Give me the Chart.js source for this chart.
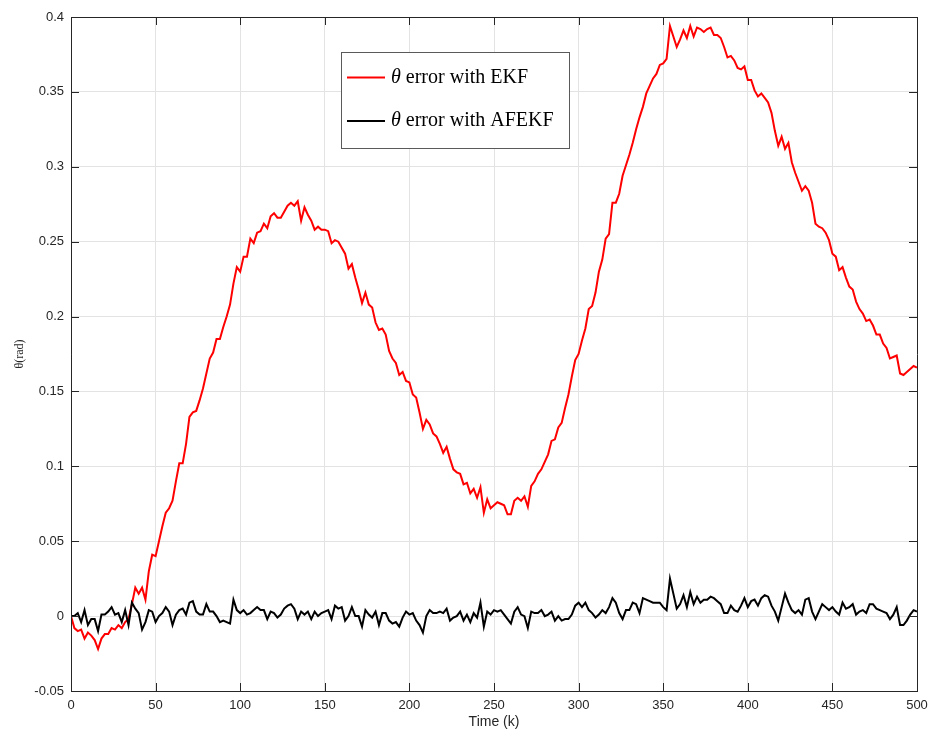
<!DOCTYPE html>
<html>
<head>
<meta charset="utf-8">
<script src="https://cdn.jsdelivr.net/npm/chart.js@4.4.1/dist/chart.umd.min.js"></script>
<style>
  html, body { margin: 0; padding: 0; background: #fff; }
  #wrap { width: 932px; height: 736px; }
</style>
</head>
<body>
<div id="wrap"><canvas id="errChart" width="932" height="736"></canvas></div>
<script>
// sample times (k), every 2 steps from 0 to 500
const timeSteps = Array.from({ length: 251 }, (_, i) => i * 2);

// theta error with EKF
const ekfError = [
  0.000, -0.008, -0.010, -0.009, -0.015, -0.011, -0.013, -0.016, -0.022, -0.015,
  -0.012, -0.012, -0.008, -0.009, -0.006, -0.008, -0.004, -0.002, 0.008, 0.019,
  0.015, 0.019, 0.011, 0.030, 0.041, 0.040, 0.050, 0.060, 0.069, 0.072,
  0.077, 0.090, 0.102, 0.102, 0.115, 0.133, 0.136, 0.137, 0.144, 0.152,
  0.162, 0.172, 0.176, 0.185, 0.185, 0.193, 0.200, 0.208, 0.222, 0.233,
  0.230, 0.240, 0.240, 0.252, 0.249, 0.256, 0.257, 0.262, 0.259, 0.267,
  0.269, 0.266, 0.266, 0.270, 0.274, 0.276, 0.274, 0.277, 0.264, 0.273,
  0.268, 0.264, 0.258, 0.260, 0.258, 0.258, 0.257, 0.249, 0.251, 0.250,
  0.246, 0.242, 0.232, 0.235, 0.226, 0.218, 0.209, 0.216, 0.208, 0.206,
  0.196, 0.191, 0.192, 0.188, 0.177, 0.172, 0.169, 0.161, 0.163, 0.157,
  0.156, 0.148, 0.146, 0.136, 0.125, 0.131, 0.128, 0.122, 0.120, 0.115,
  0.109, 0.113, 0.105, 0.098, 0.096, 0.095, 0.088, 0.089, 0.082, 0.085,
  0.079, 0.086, 0.069, 0.078, 0.072, 0.074, 0.076, 0.075, 0.074, 0.068,
  0.068, 0.077, 0.079, 0.077, 0.080, 0.073, 0.087, 0.090, 0.095, 0.098,
  0.103, 0.108, 0.117, 0.118, 0.126, 0.129, 0.139, 0.148, 0.160, 0.171,
  0.175, 0.184, 0.192, 0.205, 0.207, 0.216, 0.230, 0.238, 0.252, 0.255,
  0.276, 0.276, 0.282, 0.294, 0.301, 0.308, 0.316, 0.325, 0.333, 0.340,
  0.349, 0.354, 0.359, 0.362, 0.368, 0.369, 0.372, 0.394, 0.387, 0.380,
  0.385, 0.391, 0.386, 0.394, 0.387, 0.393, 0.392, 0.390, 0.392, 0.393,
  0.388, 0.388, 0.386, 0.380, 0.373, 0.374, 0.371, 0.366, 0.365, 0.367,
  0.358, 0.358, 0.351, 0.347, 0.349, 0.346, 0.343, 0.336, 0.324, 0.314,
  0.320, 0.312, 0.316, 0.303, 0.296, 0.290, 0.284, 0.287, 0.284, 0.276,
  0.262, 0.260, 0.259, 0.256, 0.251, 0.242, 0.240, 0.231, 0.233, 0.226,
  0.220, 0.218, 0.210, 0.205, 0.202, 0.197, 0.198, 0.194, 0.188, 0.188,
  0.182, 0.179, 0.172, 0.173, 0.174, 0.162, 0.161, 0.163, 0.165, 0.167,
  0.166
];

// theta error with AFEKF
const afekfError = [
  0.000, 0.000, 0.002, -0.004, 0.004, -0.006, -0.002, -0.002, -0.010, 0.001,
  0.001, 0.003, 0.006, 0.001, 0.002, -0.004, 0.004, -0.006, 0.009, 0.005,
  0.002, -0.009, -0.004, 0.004, 0.003, -0.004, 0.000, 0.002, 0.006, 0.003,
  -0.006, 0.001, 0.004, 0.005, 0.001, 0.009, 0.010, 0.003, 0.001, 0.001,
  0.008, 0.003, 0.003, 0.000, -0.004, -0.003, -0.004, -0.005, 0.011, 0.004,
  0.002, 0.004, 0.001, 0.002, 0.004, 0.006, 0.004, 0.004, -0.002, 0.003,
  0.002, -0.001, 0.001, 0.005, 0.007, 0.008, 0.005, -0.002, 0.003, 0.001,
  0.003, -0.002, 0.003, 0.000, 0.002, 0.003, 0.004, -0.002, 0.007, 0.005,
  0.006, -0.003, 0.000, 0.006, 0.000, 0.000, -0.007, 0.004, 0.001, -0.001,
  0.003, -0.006, 0.002, 0.002, -0.003, -0.005, -0.004, -0.007, -0.001, 0.003,
  0.001, 0.002, -0.003, -0.006, -0.011, 0.000, 0.004, 0.002, 0.002, 0.003,
  0.002, 0.005, -0.003, -0.001, 0.000, 0.003, -0.003, 0.001, -0.004, 0.002,
  -0.001, 0.009, -0.007, 0.003, 0.001, 0.004, 0.003, 0.004, 0.001, -0.002,
  -0.005, 0.003, 0.006, 0.001, 0.000, -0.008, 0.003, 0.002, 0.002, 0.004,
  0.000, 0.001, 0.003, -0.003, 0.000, -0.003, -0.002, -0.002, 0.001, 0.007,
  0.009, 0.006, 0.009, 0.004, 0.002, -0.001, 0.001, 0.004, 0.002, 0.006,
  0.012, 0.009, 0.002, -0.002, 0.004, 0.004, 0.009, 0.008, 0.002, 0.012,
  0.011, 0.010, 0.009, 0.009, 0.009, 0.006, 0.004, 0.025, 0.015, 0.005,
  0.008, 0.014, 0.006, 0.016, 0.008, 0.013, 0.009, 0.011, 0.011, 0.013,
  0.012, 0.010, 0.008, 0.002, 0.002, 0.007, 0.004, 0.003, 0.007, 0.012,
  0.006, 0.010, 0.011, 0.007, 0.012, 0.014, 0.013, 0.007, 0.003, -0.003,
  0.006, 0.015, 0.009, 0.004, 0.002, 0.004, 0.001, 0.011, 0.012, 0.003,
  -0.002, 0.003, 0.008, 0.006, 0.004, 0.006, 0.003, 0.001, 0.009, 0.005,
  0.006, 0.008, 0.001, 0.003, 0.004, 0.002, 0.008, 0.008, 0.005, 0.004,
  0.003, 0.002, -0.002, 0.001, 0.006, -0.006, -0.006, -0.003, 0.001, 0.004,
  0.003
];

const seriesNames = ["error with EKF", "error with AFEKF"];
const seriesColors = ["#ff0000", "#000000"];
const xTicks = [0, 50, 100, 150, 200, 250, 300, 350, 400, 450, 500];
const yTicks = [-0.05, 0, 0.05, 0.1, 0.15, 0.2, 0.25, 0.3, 0.35, 0.4];
const yTickLabels = ["-0.05", "0", "0.05", "0.1", "0.15", "0.2", "0.25", "0.3", "0.35", "0.4"];

const axisColor = "#262626";
const tickFont = { family: "Liberation Sans", size: 13 };

// matlab style box with inward ticks on all four sides
const boxPlugin = {
  id: "matlabBox",
  afterDatasetsDraw(chart) {
    const { ctx, chartArea: a, scales } = chart;
    const len = 8;
    ctx.save();
    ctx.strokeStyle = axisColor;
    ctx.lineWidth = 1;
    ctx.beginPath();
    ctx.rect(Math.round(a.left) + 0.5, Math.round(a.top) + 0.5,
             Math.round(a.right - a.left), Math.round(a.bottom - a.top));
    xTicks.forEach(v => {
      const px = Math.round(scales.x.getPixelForValue(v)) + 0.5;
      ctx.moveTo(px, a.bottom); ctx.lineTo(px, a.bottom - len);
      ctx.moveTo(px, a.top); ctx.lineTo(px, a.top + len);
    });
    yTicks.forEach(v => {
      const py = Math.round(scales.y.getPixelForValue(v)) + 0.5;
      ctx.moveTo(a.left, py); ctx.lineTo(a.left + len, py);
      ctx.moveTo(a.right, py); ctx.lineTo(a.right - len, py);
    });
    ctx.stroke();
    ctx.restore();
  }
};

// legend box drawn inside the plot like the matlab one
const legendPlugin = {
  id: "insideLegend",
  afterDraw(chart) {
    const ctx = chart.ctx;
    const bx = 341, by = 52, bw = 228, bh = 96;
    ctx.save();
    ctx.fillStyle = "#fff";
    ctx.fillRect(bx, by, bw, bh);
    ctx.strokeStyle = "#5a5a5a";
    ctx.lineWidth = 1;
    ctx.strokeRect(bx + 0.5, by + 0.5, bw, bh);

    // size the serif font so the longer entry fills about 172px
    let size = 16;
    ctx.font = size + "px 'Liberation Serif'";
    const w = ctx.measureText("\u03b8 " + seriesNames[1]).width;
    size = Math.max(12, Math.min(20, size * 172 / w));

    const rows = [77.5, 121];
    rows.forEach((y, i) => {
      ctx.strokeStyle = seriesColors[i];
      ctx.lineWidth = 2;
      ctx.beginPath();
      ctx.moveTo(347, y); ctx.lineTo(385, y);
      ctx.stroke();
      ctx.fillStyle = "#000";
      ctx.textBaseline = "middle";
      ctx.textAlign = "left";
      ctx.font = "italic " + size + "px 'Liberation Serif'";
      ctx.fillText("\u03b8", 391, y);
      const tw = ctx.measureText("\u03b8").width;
      ctx.font = size + "px 'Liberation Serif'";
      ctx.fillText(" " + seriesNames[i], 391 + tw, y);
    });
    ctx.restore();
  }
};

new Chart(document.getElementById("errChart"), {
  type: "line",
  data: {
    datasets: [
      {
        label: "\u03b8 " + seriesNames[0],
        data: timeSteps.map((t, i) => ({ x: t, y: ekfError[i] })),
        borderColor: seriesColors[0],
        borderWidth: 2,
        pointRadius: 0,
        tension: 0,
        order: 2
      },
      {
        label: "\u03b8 " + seriesNames[1],
        data: timeSteps.map((t, i) => ({ x: t, y: afekfError[i] })),
        borderColor: seriesColors[1],
        borderWidth: 2,
        pointRadius: 0,
        tension: 0,
        order: 1
      }
    ]
  },
  options: {
    responsive: false,
    animation: false,
    layout: { padding: { top: 17, right: 15, left: 0, bottom: 0 } },
    plugins: { legend: { display: false }, tooltip: { enabled: false } },
    scales: {
      x: {
        type: "linear",
        min: 0,
        max: 500,
        afterBuildTicks: s => { s.ticks = xTicks.map(v => ({ value: v })); },
        afterFit: s => { s.height = 45; s.paddingLeft = 0; s.paddingRight = 0; },
        ticks: { padding: 7, color: axisColor, font: tickFont, maxRotation: 0, callback: v => String(v) },
        grid: { color: "#e3e3e3", drawTicks: false },
        border: { color: axisColor },
        title: {
          display: true,
          text: "Time (k)",
          color: axisColor,
          font: { family: "Liberation Sans", size: 14 },
          padding: { top: 0, bottom: 5 }
        }
      },
      y: {
        min: -0.05,
        max: 0.4,
        afterBuildTicks: s => { s.ticks = yTicks.map(v => ({ value: v })); },
        afterFit: s => { s.width = 71; s.paddingTop = 0; s.paddingBottom = 0; },
        ticks: { padding: 7, color: axisColor, font: tickFont, callback: (v, i) => yTickLabels[i] },
        grid: { color: "#e3e3e3", drawTicks: false },
        border: { color: axisColor },
        title: {
          display: true,
          text: "\u03b8(rad)",
          color: axisColor,
          font: { family: "Liberation Serif", size: 12 },
          padding: { top: 13, bottom: 0 }
        }
      }
    }
  },
  plugins: [boxPlugin, legendPlugin]
});
</script>
</body>
</html>
